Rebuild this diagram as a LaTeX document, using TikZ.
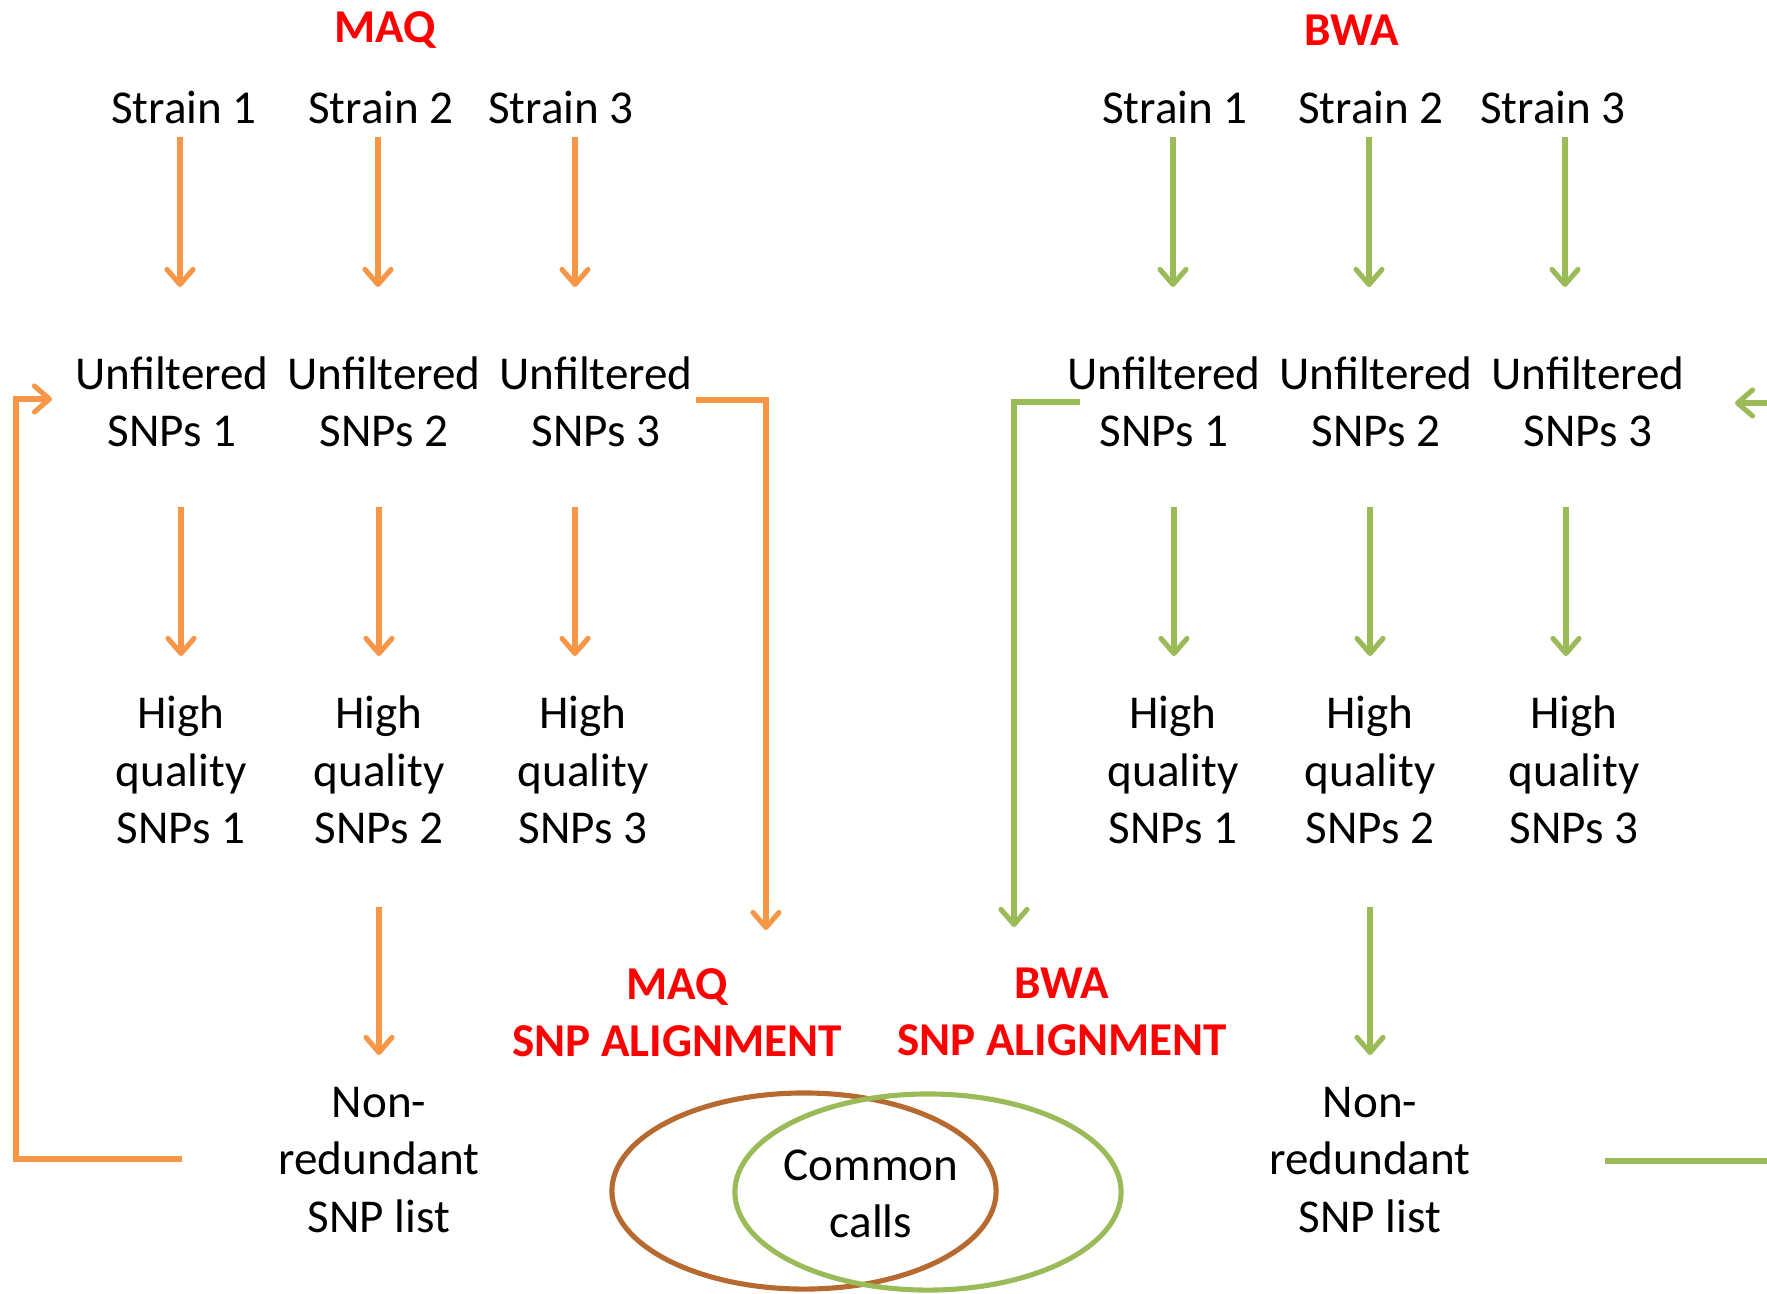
\documentclass[tikz,border=0pt]{standalone}
\usepackage{fontspec}
\setmainfont{Carlito}
\usetikzlibrary{arrows.meta,calc}
\definecolor{orng}{HTML}{F79646}
\definecolor{grn}{HTML}{9BBB59}
\definecolor{brn}{HTML}{B66A30}
\definecolor{redt}{HTML}{FF0000}
\begin{document}
\begin{tikzpicture}[x=0.01cm,y=-0.01cm,
  txt/.style={align=center,inner sep=0pt,font=\fontsize{13.4}{16.3}\selectfont},
  ttl/.style={align=center,inner sep=0pt,text=redt,font=\fontsize{13.4}{16.3}\selectfont\bfseries},
  tip/.style={-{Straight Barb[length=1.5mm,width=2.6mm,line cap=round,line join=round]}},
  oline/.style={draw=orng,line width=1.45pt},
  gline/.style={draw=grn,line width=1.45pt},
  oarr/.style={oline,tip},
  garr/.style={gline,tip}]
\useasboundingbox (0,0) rectangle (1767,1293);
% titles
\node[ttl] (tmaq) at (385,30) {MAQ};
\node[ttl] (tbwa) at (1352,30) {BWA};
% strains
\node[txt] (s1) at (184,107) {Strain 1};
\node[txt] (s2) at (381,107) {Strain 2};
\node[txt] (s3) at (561,107) {Strain 3};
\node[txt] (s4) at (1175,107) {Strain 1};
\node[txt] (s5) at (1371,107) {Strain 2};
\node[txt] (s6) at (1553,107) {Strain 3};
% unfiltered
\node[txt] (u1) at (172,402) {Unfiltered\\SNPs 1};
\node[txt] (u2) at (384,402) {Unfiltered\\SNPs 2};
\node[txt] (u3) at (596,402) {Unfiltered\\SNPs 3};
\node[txt] (u4) at (1164,402) {Unfiltered\\SNPs 1};
\node[txt] (u5) at (1376,402) {Unfiltered\\SNPs 2};
\node[txt] (u6) at (1588,402) {Unfiltered\\SNPs 3};
% high quality
\node[txt] (h1) at (181,770) {High\\quality\\SNPs 1};
\node[txt] (h2) at (379,770) {High\\quality\\SNPs 2};
\node[txt] (h3) at (583,770) {High\\quality\\SNPs 3};
\node[txt] (h4) at (1173,770) {High\\quality\\SNPs 1};
\node[txt] (h5) at (1370,770) {High\\quality\\SNPs 2};
\node[txt] (h6) at (1574,770) {High\\quality\\SNPs 3};
% non-redundant
\node[txt] (n1) at (379,1160) {Non-\\redundant\\SNP list};
\node[txt] (n2) at (1370,1160) {Non-\\redundant\\SNP list};
% alignment titles
\node[ttl] (amaq) at (677,1013) {MAQ\\SNP ALIGNMENT};
\node[ttl] (abwa) at (1062,1012) {BWA\\SNP ALIGNMENT};
% ellipses
\draw[brn,line width=1.45pt] (804,1191) ellipse [x radius=1.92cm,y radius=0.98cm];
\draw[grn,line width=1.45pt] (928,1192) ellipse [x radius=1.93cm,y radius=0.98cm];
\node[txt] (cc) at (871,1194) {Common\\calls};
% orange arrows
\draw[oarr] ($(s1)+(-4,30)$) -- ($(u1)+(8,-115)$);
\draw[oarr] ($(s2)+(-3,30)$) -- ($(u2)+(-6,-115)$);
\draw[oarr] ($(s3)+(14,30)$) -- ($(u3)+(-21,-115)$);
\draw[oarr] ($(u1)+(9,105)$) -- ($(h1)+(0,-114)$);
\draw[oarr] ($(u2)+(-5,105)$) -- ($(h2)+(0,-114)$);
\draw[oarr] ($(u3)+(-21,105)$) -- ($(h3)+(-8,-114)$);
\draw[oarr] ($(h2)+(0,137)$) -- ($(n2)+(-991,-105)$);
% green arrows
\draw[garr] ($(s4)+(-2,30)$) -- ($(u4)+(9,-115)$);
\draw[garr] ($(s5)+(-2,30)$) -- ($(u5)+(-7,-115)$);
\draw[garr] ($(s6)+(12,30)$) -- ($(u6)+(-23,-115)$);
\draw[garr] ($(u4)+(10,105)$) -- ($(h4)+(1,-114)$);
\draw[garr] ($(u5)+(-6,105)$) -- ($(h5)+(0,-114)$);
\draw[garr] ($(u6)+(-22,105)$) -- ($(h6)+(-8,-114)$);
\draw[garr] ($(h5)+(0,137)$) -- ($(n2)+(0,-105)$);
% feedback / bracket connectors
\draw[oarr] ($(n1)+(-197,-1)$) -- (16,1159) -- (16,399) -- ($(u1)+(-120,-3)$);
\draw[oarr] ($(u3)+(100,-2)$) -- (766,400) -- (766,930);
\draw[garr] ($(u4)+(-84,0)$) -- (1014,402) -- (1014,927);
\coordinate (redge1) at (1767,1161);
\coordinate (redge2) at (1767,403);
\draw[gline] ($(n2)+(235,1)$) -- (redge1);
\draw[garr] (redge2) -- ($(u6)+(147,1)$);
\end{tikzpicture}
\end{document}
